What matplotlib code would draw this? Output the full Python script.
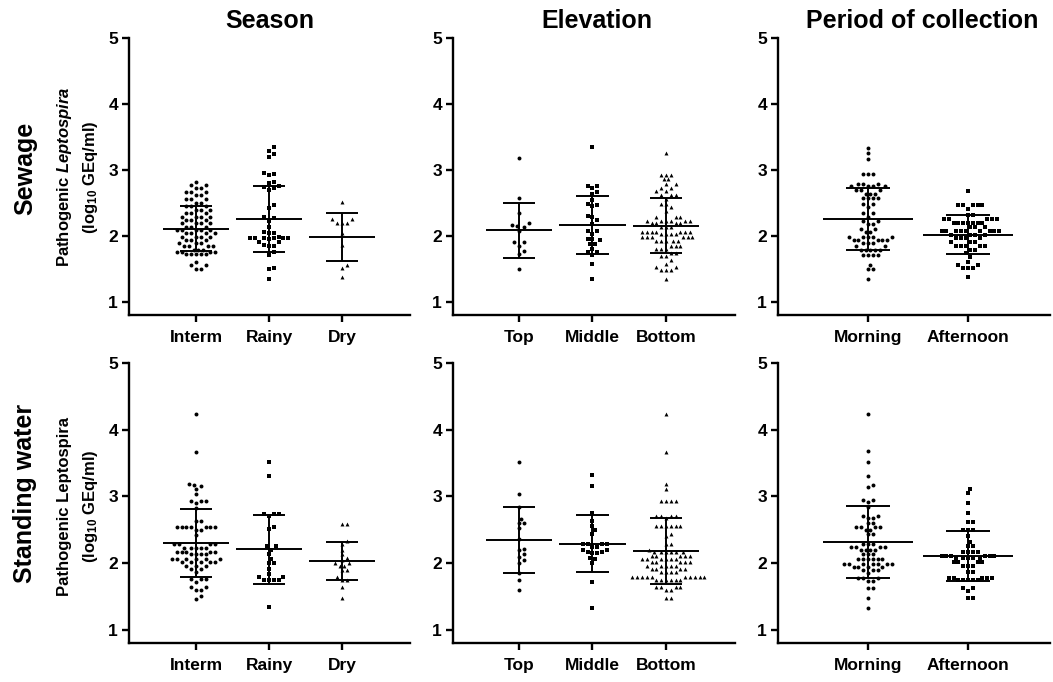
import numpy as np
import matplotlib
matplotlib.use("Agg")
import matplotlib.pyplot as plt

plt.rcParams['font.family'] = ['Liberation Sans', 'DejaVu Sans']
plt.rcParams['font.weight'] = 'bold'
plt.rcParams['mathtext.fontset'] = 'custom'
plt.rcParams['mathtext.rm'] = 'Liberation Sans:bold'
plt.rcParams['mathtext.it'] = 'Liberation Sans:italic:bold'
plt.rcParams['mathtext.bf'] = 'Liberation Sans:bold'

# ---------------- data ----------------
season_labels = ["Interm", "Rainy", "Dry"]
elevation_labels = ["Top", "Middle", "Bottom"]
period_labels = ["Morning", "Afternoon"]

# Sewage - season
sew_interm = [2.81, 2.77, 2.77, 2.72, 2.72, 2.66, 2.66, 2.66, 2.62, 2.62, 2.56, 2.56, 2.56, 2.50, 2.50,
              2.45, 2.45, 2.45, 2.39, 2.39, 2.39, 2.34, 2.34, 2.34, 2.28, 2.28, 2.28, 2.28, 2.24, 2.24,
              2.24, 2.19, 2.19, 2.19, 2.19, 2.14, 2.14, 2.14, 2.09, 2.09, 2.09, 2.09, 2.09, 2.04, 2.04,
              2.04, 2.04, 1.99, 1.99, 1.99, 1.99, 1.94, 1.94, 1.94, 1.89, 1.89, 1.89, 1.84, 1.84, 1.84,
              1.84, 1.79, 1.79, 1.79, 1.76, 1.76, 1.76, 1.76, 1.72, 1.72, 1.72, 1.72, 1.72, 1.61, 1.56,
              1.56, 1.50, 1.50]
sew_rainy = [3.34, 3.29, 3.24, 3.19, 2.95, 2.94, 2.93, 2.81, 2.80, 2.75, 2.74, 2.72, 2.70, 2.47, 2.42,
             2.28, 2.27, 2.22, 2.14, 2.06, 2.05, 2.04, 1.98, 1.97, 1.97, 1.97, 1.96, 1.96, 1.96, 1.95,
             1.91, 1.90, 1.86, 1.85, 1.84, 1.75, 1.71, 1.52, 1.49, 1.35]
sew_dry = [2.51, 2.25, 2.25, 2.20, 2.20, 2.20, 2.04, 1.86, 1.56, 1.52, 1.38]
sew_season_mean = [2.11, 2.26, 1.98]
sew_season_sd = [0.345, 0.50, 0.36]

# Sewage - elevation
sew_top = [3.18, 2.57, 2.34, 2.19, 2.17, 2.15, 2.13, 2.08, 1.90, 1.90, 1.85, 1.77, 1.72, 1.49]
sew_middle = [3.34, 2.76, 2.75, 2.72, 2.66, 2.63, 2.55, 2.48, 2.47, 2.46, 2.30, 2.28, 2.24, 2.18, 2.08,
              2.07, 2.03, 1.95, 1.95, 1.93, 1.88, 1.87, 1.80, 1.75, 1.75, 1.71, 1.58, 1.34]
sew_bottom = [3.25, 2.93, 2.93, 2.93, 2.86, 2.86, 2.79, 2.79, 2.73, 2.73, 2.68, 2.68, 2.62, 2.62, 2.62,
              2.56, 2.48, 2.48, 2.43, 2.37, 2.29, 2.29, 2.29, 2.23, 2.23, 2.23, 2.23, 2.23, 2.23, 2.19,
              2.19, 2.19, 2.19, 2.13, 2.13, 2.13, 2.06, 2.06, 2.06, 2.06, 2.06, 2.06, 2.06, 2.03, 2.03,
              2.03, 2.03, 1.98, 1.98, 1.98, 1.98, 1.98, 1.98, 1.92, 1.92, 1.92, 1.92, 1.92, 1.85, 1.85,
              1.85, 1.80, 1.80, 1.80, 1.74, 1.74, 1.70, 1.70, 1.63, 1.57, 1.53, 1.53, 1.48, 1.48, 1.48,
              1.35]
sew_elev_mean = [2.085, 2.16, 2.155]
sew_elev_sd = [0.415, 0.44, 0.415]

# Sewage - period
sew_morning = [3.33, 3.25, 3.17, 2.94, 2.94, 2.94, 2.79, 2.79, 2.79, 2.75, 2.75, 2.75, 2.75, 2.69, 2.69,
               2.69, 2.64, 2.64, 2.64, 2.57, 2.57, 2.57, 2.57, 2.49, 2.49, 2.44, 2.34, 2.34, 2.29, 2.23,
               2.23, 2.18, 2.18, 2.11, 2.11, 2.06, 2.06, 1.99, 1.99, 1.99, 1.99, 1.99, 1.94, 1.94, 1.94,
               1.94, 1.94, 1.89, 1.89, 1.89, 1.84, 1.84, 1.78, 1.78, 1.78, 1.78, 1.78, 1.71, 1.71, 1.71,
               1.71, 1.56, 1.49, 1.49, 1.35]
sew_afternoon = [2.68, 2.47, 2.47, 2.47, 2.47, 2.47, 2.41, 2.31, 2.31, 2.25, 2.25, 2.25, 2.25, 2.25,
                 2.20, 2.20, 2.20, 2.20, 2.20, 2.20, 2.20, 2.13, 2.13, 2.13, 2.07, 2.07, 2.07, 2.07,
                 2.07, 2.07, 2.07, 2.07, 2.07, 2.01, 2.01, 2.01, 2.01, 1.96, 1.96, 1.96, 1.96, 1.91,
                 1.91, 1.91, 1.85, 1.85, 1.85, 1.85, 1.85, 1.79, 1.79, 1.74, 1.68, 1.61, 1.56, 1.56,
                 1.51, 1.51, 1.51, 1.37]
sew_period_mean = [2.26, 2.02]
sew_period_sd = [0.47, 0.29]

# Standing water - season
sw_interm = [4.23, 3.67, 3.18, 3.17, 3.15, 3.11, 3.04, 2.93, 2.93, 2.93, 2.90, 2.83, 2.63, 2.63, 2.54,
             2.54, 2.54, 2.54, 2.54, 2.54, 2.54, 2.49, 2.49, 2.42, 2.28, 2.28, 2.28, 2.28, 2.23, 2.23,
             2.23, 2.23, 2.23, 2.17, 2.17, 2.17, 2.17, 2.17, 2.13, 2.13, 2.13, 2.13, 2.06, 2.06, 2.06,
             2.06, 2.06, 2.06, 2.01, 2.01, 2.01, 2.01, 2.01, 1.96, 1.96, 1.96, 1.91, 1.91, 1.86, 1.76,
             1.76, 1.76, 1.71, 1.64, 1.64, 1.59, 1.59, 1.51, 1.46]
sw_rainy = [3.51, 3.31, 2.73, 2.73, 2.73, 2.71, 2.54, 2.51, 2.25, 2.25, 2.20, 2.14, 2.06, 2.00, 2.00,
            1.91, 1.84, 1.79, 1.79, 1.74, 1.74, 1.74, 1.74, 1.34]
sw_dry = [2.59, 2.59, 2.33, 2.28, 2.20, 2.13, 2.07, 2.04, 2.00, 2.00, 1.95, 1.95, 1.89, 1.89, 1.79,
          1.74, 1.74, 1.64, 1.47]
sw_season_mean = [2.30, 2.205, 2.03]
sw_season_sd = [0.51, 0.515, 0.28]

# Standing water - elevation
sw_top = [3.52, 3.04, 2.84, 2.66, 2.60, 2.60, 2.52, 2.36, 2.21, 2.19, 2.14, 2.09, 2.04, 2.00, 1.85,
          1.74, 1.59]
sw_middle = [3.32, 3.15, 2.75, 2.63, 2.56, 2.50, 2.44, 2.28, 2.28, 2.28, 2.28, 2.24, 2.24, 2.20, 2.20,
             2.17, 2.17, 2.15, 2.15, 2.08, 2.06, 2.00, 1.72, 1.33]
sw_bottom = [4.23, 3.67, 3.18, 3.11, 2.93, 2.93, 2.93, 2.93, 2.71, 2.71, 2.71, 2.71, 2.68, 2.55, 2.55,
             2.55, 2.55, 2.55, 2.55, 2.44, 2.40, 2.28, 2.28, 2.20, 2.17, 2.17, 2.17, 2.17, 2.17, 2.17,
             2.11, 2.11, 2.11, 2.11, 2.11, 2.06, 2.06, 2.06, 2.06, 2.06, 2.06, 2.01, 2.01, 2.01, 2.01,
             2.01, 1.96, 1.96, 1.96, 1.96, 1.96, 1.91, 1.91, 1.91, 1.91, 1.86, 1.86, 1.86, 1.86, 1.79,
             1.79, 1.79, 1.79, 1.79, 1.79, 1.79, 1.79, 1.79, 1.79, 1.74, 1.74, 1.74, 1.74, 1.74, 1.74,
             1.64, 1.64, 1.64, 1.64, 1.59, 1.59, 1.47, 1.47]
sw_elev_mean = [2.345, 2.29, 2.185]
sw_elev_sd = [0.495, 0.43, 0.495]

# Standing water - period
sw_morning = [4.24, 3.68, 3.51, 3.31, 3.17, 3.14, 2.95, 2.95, 2.91, 2.84, 2.70, 2.70, 2.67, 2.67, 2.60,
              2.60, 2.54, 2.54, 2.54, 2.54, 2.50, 2.50, 2.44, 2.44, 2.28, 2.28, 2.28, 2.24, 2.24, 2.24,
              2.24, 2.19, 2.19, 2.19, 2.19, 2.13, 2.13, 2.13, 2.06, 2.06, 2.06, 2.06, 2.06, 2.06, 1.99,
              1.99, 1.99, 1.99, 1.99, 1.99, 1.99, 1.94, 1.94, 1.94, 1.94, 1.89, 1.89, 1.89, 1.85, 1.77,
              1.77, 1.77, 1.73, 1.73, 1.63, 1.63, 1.48, 1.33]
sw_afternoon = [3.11, 3.05, 2.90, 2.75, 2.62, 2.62, 2.50, 2.50, 2.49, 2.40, 2.32, 2.26, 2.26, 2.16,
                2.16, 2.16, 2.16, 2.11, 2.11, 2.11, 2.11, 2.11, 2.11, 2.07, 2.07, 2.07, 2.07, 2.07,
                2.01, 2.01, 2.01, 2.01, 1.96, 1.96, 1.96, 1.86, 1.86, 1.78, 1.78, 1.78, 1.78, 1.78,
                1.74, 1.74, 1.74, 1.74, 1.74, 1.63, 1.63, 1.58, 1.47, 1.47]
sw_period_mean = [2.315, 2.10]
sw_period_sd = [0.535, 0.375]

col_titles = ["Season", "Elevation", "Period of collection"]
row_titles = ["Sewage", "Standing water"]
yticks = [1, 2, 3, 4, 5]

panels = [
    [(season_labels, [sew_interm, sew_rainy, sew_dry], sew_season_mean, sew_season_sd),
     (elevation_labels, [sew_top, sew_middle, sew_bottom], sew_elev_mean, sew_elev_sd),
     (period_labels, [sew_morning, sew_afternoon], sew_period_mean, sew_period_sd)],
    [(season_labels, [sw_interm, sw_rainy, sw_dry], sw_season_mean, sw_season_sd),
     (elevation_labels, [sw_top, sw_middle, sw_bottom], sw_elev_mean, sw_elev_sd),
     (period_labels, [sw_morning, sw_afternoon], sw_period_mean, sw_period_sd)],
]

# ---------------- layout ----------------
W, H = 1053, 682
fig = plt.figure(figsize=(W / 100, H / 100), dpi=100)

col_px = [(129, 410), (453, 735), (778, 1050)]
row_px = [(38, 315), (363, 643)]
col_xlim = [(-0.918, 2.93), (-0.898, 2.94), (-0.9, 1.82)]
markers = ['o', 's', '^']
msizes = [8, 7, 8]


def swarm_offsets(ax, x0, vals, d=4.8, step=0.5):
    pts = ax.transData.transform(np.column_stack([np.full(len(vals), x0), vals]))
    ys = pts[:, 1]
    px_per_x = ax.transData.transform((1, 0))[0] - ax.transData.transform((0, 0))[0]
    order = np.argsort(ys, kind='stable')
    placed = []
    offs = np.zeros(len(vals))
    for i in order:
        y = ys[i]
        k = 0
        while True:
            cands = [0.0] if k == 0 else [k * step * d, -k * step * d]
            done = False
            for c in cands:
                ok = True
                for (px, py) in placed:
                    if (px - c) ** 2 + (py - y) ** 2 < (0.97 * d) ** 2:
                        ok = False
                        break
                if ok:
                    offs[i] = c
                    placed.append((c, y))
                    done = True
                    break
            if done:
                break
            k += 1
    return offs / px_per_x


for r in range(2):
    for c in range(3):
        l, rgt = col_px[c]
        t, b = row_px[r]
        ax = fig.add_axes([l / W, 1 - b / H, (rgt - l) / W, (b - t) / H])
        labels, groups, means, sds = panels[r][c]
        ax.set_xlim(*col_xlim[c])
        ax.set_ylim(0.8, 5)
        for s in ['top', 'right']:
            ax.spines[s].set_visible(False)
        for s in ['left', 'bottom']:
            ax.spines[s].set_linewidth(1.7)
        ax.tick_params(axis='both', length=5, width=1.7, labelsize=12.5, pad=3)
        ax.tick_params(axis='x', pad=6)
        ax.set_yticks(yticks)
        ax.set_xticks(range(len(labels)))
        ax.set_xticklabels(labels, fontweight='bold')
        for lab in ax.get_yticklabels():
            lab.set_fontweight('bold')
        for i, vals in enumerate(groups):
            offs = swarm_offsets(ax, i, vals)
            ax.scatter(i + offs, vals, marker=markers[i], s=msizes[i], color='black',
                       linewidths=0, zorder=2)
            m, sd = means[i], sds[i]
            ax.hlines(m, i - 0.45, i + 0.45, color='black', lw=1.4, zorder=3)
            ax.vlines(i, m - sd, m + sd, color='black', lw=1.4, zorder=3)
            ax.hlines([m - sd, m + sd], i - 0.22, i + 0.22, color='black', lw=1.4, zorder=3)

# column titles
title_x = [270, 597, 922]
for c in range(3):
    fig.text(title_x[c] / W, 1 - 21 / H, col_titles[c], ha='center', va='center',
             fontsize=18, fontweight='bold')

# row titles
row_y = [168, 493]
for r in range(2):
    fig.text(25 / W, 1 - row_y[r] / H, row_titles[r], rotation=90, ha='center', va='center',
             fontsize=18, fontweight='bold')

# y labels
ylab_y = [177, 506]
fig.text(65 / W, 1 - ylab_y[0] / H, r"Pathogenic $\mathit{Leptospira}$", rotation=90,
         ha='center', va='center', fontsize=12, fontweight='bold')
fig.text(65 / W, 1 - ylab_y[1] / H, "Pathogenic Leptospira", rotation=90,
         ha='center', va='center', fontsize=12, fontweight='bold')
for r in range(2):
    fig.text(90 / W, 1 - ylab_y[r] / H, r"(log$_{10}$ GEq/ml)", rotation=90,
             ha='center', va='center', fontsize=12, fontweight='bold')

fig.savefig("out.png", dpi=100)
